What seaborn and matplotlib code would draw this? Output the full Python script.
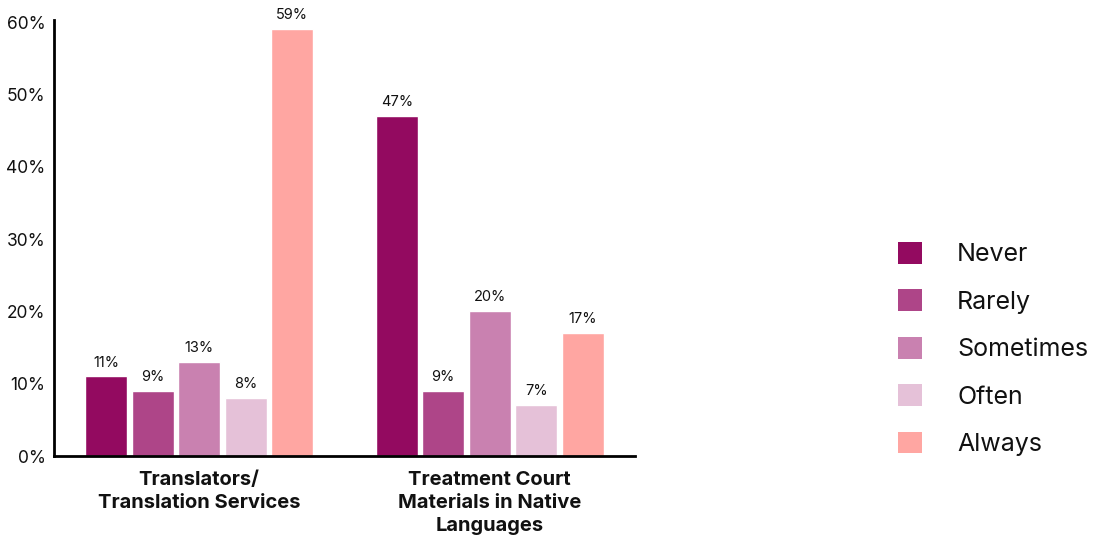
import matplotlib
matplotlib.use("Agg")
import matplotlib.pyplot as plt
from matplotlib.patches import Patch
import seaborn as sns
import pandas as pd

categories = ["Translators/\nTranslation Services", "Treatment Court\nMaterials in Native\nLanguages"]
responses = ["Never", "Rarely", "Sometimes", "Often", "Always"]
never = [11, 47]
rarely = [9, 9]
sometimes = [13, 20]
often = [8, 7]
always = [59, 17]
colors = ["#930A60", "#AE4588", "#C981B0", "#E5C1D8", "#FFA6A2"]

series = dict(zip(responses, [never, rarely, sometimes, often, always]))
rows = []
for r in responses:
    for c, v in zip(categories, series[r]):
        rows.append({"category": c, "response": r, "value": v})
df = pd.DataFrame(rows)

sns.set_theme(style="white")
plt.rcParams["font.family"] = ["Inter", "DejaVu Sans"]

fig = plt.figure(figsize=(11.13, 5.37), dpi=100)
ax = fig.add_axes([0.0485, 0.1508, 0.522, 0.812])

sns.barplot(data=df, x="category", y="value", hue="response", hue_order=responses,
            palette=colors, order=categories, width=0.8, gap=0.1, saturation=1,
            errorbar=None, legend=False, ax=ax)

for cont in ax.containers:
    ax.bar_label(cont, labels=[f"{int(round(v))}%" for v in cont.datavalues],
                 padding=5, fontsize=10.5, color="#111111")

ax.set_xlim(-0.5, 1.5)
ax.set_ylim(0, 60.3)
ax.set_yticks(range(0, 61, 10))
ax.set_yticklabels([f"{t}%" for t in range(0, 61, 10)], fontsize=12.5, color="#111111")
ax.set_xticks([0, 1])
ax.set_xticklabels(categories, fontsize=14.5, fontweight="bold", color="#111111",
                   linespacing=1.35)
ax.tick_params(axis="x", length=0, pad=11)
ax.tick_params(axis="y", length=0, pad=6)
ax.set_xlabel("")
ax.set_ylabel("")
for s in ["top", "right"]:
    ax.spines[s].set_visible(False)
for s in ["left", "bottom"]:
    ax.spines[s].set_color("black")
    ax.spines[s].set_linewidth(2)

handles = [Patch(facecolor=c, edgecolor="none", label=r) for r, c in zip(responses, colors)]
fig.legend(handles=handles, loc="center left", bbox_to_anchor=(0.798, 0.35),
           frameon=False, fontsize=18, handlelength=0.96, handleheight=0.96,
           handletextpad=1.4, labelspacing=0.92, borderaxespad=0,
           labelcolor="#111111")

fig.savefig("out.png", dpi=100)
